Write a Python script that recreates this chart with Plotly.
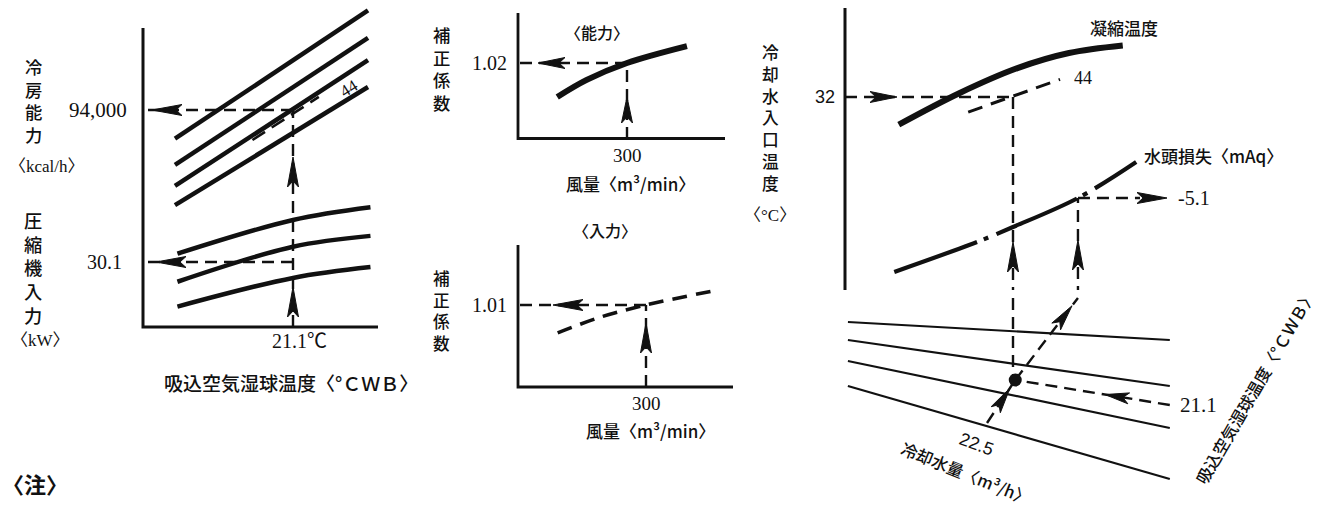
import math
import plotly.graph_objects as go

W, H = 1327, 511
INK = "#111111"
SERIF = "Liberation Serif, Noto Sans CJK JP, serif"
SANS = "Liberation Sans, Noto Sans CJK JP, sans-serif"
GOTH = "Noto Sans CJK JP, sans-serif"

# ---- left: 冷房能力 [kcal/h] / 圧縮機入力 [kW] vs 吸込空気湿球温度 [°CWB]
cap_x = [16.3, 24.15]
cap_a = [89500, 109600]
cap_b = [85400, 105300]
cap_c = [82100, 101800]
cap_d = [79100, 97600]
cap44_x = [19.45, 22.15]
cap44 = [89300, 96050]
kw_x = [16.4, 21.1, 24.25]
kw_a = [30.75, 33.4, 34.4]
kw_b = [28.55, 31.3, 32.15]
kw_c = [26.6, 28.85, 29.7]
wb_read = 21.1
cap_read = 94000
kw_read = 30.1

# ---- middle: 補正係数 vs 風量 [m3/min]
air_cap = [236, 263, 300, 355]
coef_cap = [1.0021, 1.0111, 1.02, 1.0289]
air_kw = [231, 264, 300, 356]
coef_kw = [0.9998, 1.0055, 1.01, 1.0155]
air_read = 300
coef_cap_read = 1.02
coef_kw_read = 1.01

# ---- right: 凝縮温度 [°C] / 水頭損失 [mAq] vs 冷却水量 [m3/h]
flow_x = [17.4, 20.1, 22.7, 25.0, 27.4]
cond_t = [30.9, 32.15, 33.15, 33.75, 34.05]
c44_x = [20.5, 24.6]
c44_t = [31.4, 32.7]
head_x = [17.2, 20.9, 22.5, 25.4, 28.0]
head_m = [1.33, 2.86, 3.62, 5.1, 6.94]
inlet_read = 32
flow_read = 22.5
head_x_read = 25.4
head_read = 5.1
# lower nomogram (relative scale): 吸込空気湿球温度 lines
wbl_x = [15.13, 29.5]
wbl_a = [-2.4, -4.2]
wbl_b = [-4.2, -8.8]
wbl_c = [-6.3, -13.0]
wbl_d = [-8.8, -18.1]
node = [22.6, -8.2]
wb_in = [29.5, -10.7]
flow_in = [21.34, -12.5]


class Scale:
    def __init__(self, v0, p0, v1, p1):
        self.v0, self.p0 = v0, p0
        self.k = (v1 - v0) / (p1 - p0)

    def val(self, p):
        return self.v0 + (p - self.p0) * self.k

    def px(self, v):
        return self.p0 + (v - self.v0) / self.k


S = {
    "x": Scale(15, 143, 21.1, 293), "y": Scale(60000, 327, 94000, 110),
    "y2": Scale(25, 327, 30.1, 262),
    "x3": Scale(200, 518, 300, 627), "y3": Scale(0.98, 139, 1.02, 63),
    "x4": Scale(200, 518, 300, 646), "y4": Scale(0.98, 387, 1.01, 305),
    "x5": Scale(15, 845, 22.5, 1013), "y5": Scale(24, 298, 32, 97),
    "y6": Scale(0, 298, 5.1, 198), "y7": Scale(0, 298, -10, 398),
}


def xax(name, pa, pb, **kw):
    s = S[name]
    return dict(domain=[pa / W, pb / W], range=[s.val(pa), s.val(pb)], visible=False, **kw)


def yax(name, pa, pb, **kw):
    s = S[name]
    return dict(domain=[1 - pa / H, 1 - pb / H], range=[s.val(pa), s.val(pb)], visible=False, **kw)


fig = go.Figure()


def line(xa, ya, xs, ys, width=4.5, dash=None, shape="linear"):
    fig.add_trace(go.Scatter(x=xs, y=ys, xaxis=xa, yaxis=ya, mode="lines",
                             line=dict(color=INK, width=width, dash=dash, shape=shape),
                             hoverinfo="skip"))


def dashed(xa, ya, xs, ys, width=2.4):
    line(xa, ya, xs, ys, width=width, dash="12px,7px")


def head(xa, ya, start, tip, L=30, w=5.5):
    sx, sy = S[xa], S[ya]
    x0, y0 = sx.px(start[0]), sy.px(start[1])
    x1, y1 = sx.px(tip[0]), sy.px(tip[1])
    n = math.hypot(x1 - x0, y1 - y0)
    dx, dy = (x1 - x0) / n, (y1 - y0) / n
    pts = [(x1, y1),
           (x1 - L * dx - w * dy, y1 - L * dy + w * dx),
           (x1 - (L - 6) * dx, y1 - (L - 6) * dy),
           (x1 - L * dx + w * dy, y1 - L * dy - w * dx),
           (x1, y1)]
    fig.add_trace(go.Scatter(x=[sx.val(p[0]) for p in pts], y=[sy.val(p[1]) for p in pts],
                             xaxis=xa, yaxis=ya, mode="lines", fill="toself",
                             fillcolor=INK, line=dict(color=INK, width=1), hoverinfo="skip"))


def along(xa, ya, a, b, px_x):
    # point on segment a-b at a given horizontal pixel position
    sx = S[xa]
    t = (px_x - sx.px(a[0])) / (sx.px(b[0]) - sx.px(a[0]))
    return [a[0] + t * (b[0] - a[0]), a[1] + t * (b[1] - a[1])]


# ================= left panel =================
sx, sy = S["x"], S["y"]
line("x", "y", [15, 15, sx.val(378)], [sy.val(28), 60000, 60000], width=3)
for cy in (cap_a, cap_b, cap_c, cap_d):
    line("x", "y", cap_x, cy, width=4.5)
line("x", "y", cap44_x, cap44, width=2.6, dash="15px,8px")
for ky in (kw_a, kw_b, kw_c):
    line("x", "y2", kw_x, ky, width=4.5, shape="spline")

dashed("x", "y", [wb_read, wb_read], [60000, cap_read])
dashed("x", "y", [wb_read, 15], [cap_read, cap_read])
dashed("x", "y2", [wb_read, 15], [kw_read, kw_read])
head("x", "y", [wb_read, cap_read], [sx.val(152), cap_read])
head("x", "y2", [wb_read, kw_read], [sx.val(156), kw_read])
head("x", "y", [wb_read, 60000], [wb_read, sy.val(287)])
head("x", "y", [wb_read, 60000], [wb_read, sy.val(157)])

# ================= middle panels =================
s3x, s3y = S["x3"], S["y3"]
line("x3", "y3", [200, 200, s3x.val(725)], [s3y.val(13), s3y.val(138.5), s3y.val(138.5)], width=2.8)
line("x3", "y3", air_cap, coef_cap, width=6, shape="spline")
dashed("x3", "y3", [air_read, air_read], [0.98, coef_cap_read])
dashed("x3", "y3", [air_read, 200], [coef_cap_read, coef_cap_read])
head("x3", "y3", [air_read, coef_cap_read], [s3x.val(538), coef_cap_read], L=27)
head("x3", "y3", [air_read, 0.98], [air_read, s3y.val(97)], L=26)

s4x, s4y = S["x4"], S["y4"]
line("x4", "y4", [200, 200, s4x.val(733)], [s4y.val(245), 0.98, 0.98], width=2.8)
line("x4", "y4", air_kw, coef_kw, width=3.6, dash="15px,9px", shape="spline")
dashed("x4", "y4", [air_read, air_read], [0.98, coef_kw_read])
dashed("x4", "y4", [air_read, 200], [coef_kw_read, coef_kw_read])
head("x4", "y4", [air_read, coef_kw_read], [s4x.val(553), coef_kw_read])
head("x4", "y4", [air_read, 0.98], [air_read, s4y.val(323)])

# ================= right panel =================
s5x, s5y, s6y, s7y = S["x5"], S["y5"], S["y6"], S["y7"]
line("x5", "y5", [15, 15, s5x.val(1168)], [s5y.val(8), 24, 24], width=3)
line("x5", "y5", flow_x, cond_t, width=6, shape="spline")
line("x5", "y5", c44_x, c44_t, width=3, dash="15px,9px")
line("x5", "y6", head_x, head_m, width=4.2, dash="88px,7px,5px,9px", shape="spline")
for wy in (wbl_a, wbl_b, wbl_c, wbl_d):
    line("x5", "y7", wbl_x, wy, width=2.2)

dashed("x5", "y5", [15, flow_read], [inlet_read, inlet_read])
head("x5", "y5", [15, inlet_read], [s5x.val(897), inlet_read], L=27)
dashed("x5", "y5", [flow_read, flow_read], [inlet_read, 24])
dashed("x5", "y7", [flow_read, flow_read], [0, node[1]])
head("x5", "y5", [flow_read, 24], [flow_read, s5y.val(242)])

dashed("x5", "y6", [head_x_read, head_x_read], [0, head_read])
head("x5", "y6", [head_x_read, 0], [head_x_read, s6y.val(240)])
dashed("x5", "y6", [head_x_read, s5x.val(1140)], [head_read, head_read])
head("x5", "y6", [head_x_read, head_read], [s5x.val(1167), head_read])

dashed("x5", "y7", [wb_in[0], node[0]], [wb_in[1], node[1]])
head("x5", "y7", wb_in, along("x5", "y7", wb_in, node, 1105), L=24)
dashed("x5", "y7", [node[0], head_x_read], [node[1], 0])
head("x5", "y7", node, along("x5", "y7", node, [head_x_read, 0], 1072), L=26)
dashed("x5", "y7", [flow_in[0], node[0]], [flow_in[1], node[1]])
head("x5", "y7", flow_in, along("x5", "y7", flow_in, node, 1010), L=26)
fig.add_trace(go.Scatter(x=[node[0]], y=[node[1]], xaxis="x5", yaxis="y7", mode="markers",
                         marker=dict(color=INK, size=13), hoverinfo="skip"))

# ================= text =================
ann = []


def ptxt(text, x, y, size=17, family=GOTH, angle=0, xanchor="center", weight="normal"):
    ann.append(dict(text=text, x=x / W, y=1 - y / H, xref="paper", yref="paper",
                    showarrow=False, xanchor=xanchor, yanchor="middle", textangle=angle,
                    font=dict(family=family, size=size, color=INK, weight=weight)))


def vtxt(text, x, y0, step):
    # vertical Japanese label: one character per line, plotly line pitch is 1.3 x font size
    ptxt("<br>".join(text), x, y0 + (len(text) - 1) * step / 2, size=step / 1.3, weight=500)


def dtxt(text, xa, ya, x, y, size=20, family=SERIF, angle=0, xanchor="center",
         xshift=0, yshift=0):
    ann.append(dict(text=text, x=x, y=y, xref=xa, yref=ya, showarrow=False,
                    xanchor=xanchor, yanchor="middle", xshift=xshift, yshift=yshift,
                    textangle=angle, font=dict(family=family, size=size, color=INK)))


# left
vtxt("冷房能力", 33, 67, 22.5)
ptxt("〈kcal/h〉", 47, 166, size=17, family=SERIF)
vtxt("圧縮機入力", 33, 220, 23.7)
ptxt("〈kW〉", 40, 340, size=17, family=SERIF)
dtxt("94,000", "x", "y", 15, cap_read, size=21, xanchor="right", xshift=-14)
dtxt(str(kw_read), "x", "y2", 15, kw_read, size=20, xanchor="right", xshift=-19)
dtxt(f"{wb_read}℃", "x", "y", wb_read, 60000, size=20, xshift=6, yshift=-14)
dtxt("44", "x", "y", sx.val(349), sy.val(88), size=17, angle=-32)
ptxt("吸込空気湿球温度〈°ＣＷＢ〉", 291, 382, size=19, weight=500)
ptxt("〈注〉", 0, 483, size=22, xanchor="left", weight="bold")

# middle
vtxt("補正係数", 442, 35, 22.5)
ptxt("〈能力〉", 597, 32, size=16, weight=500)
dtxt(f"{coef_cap_read:.2f}", "x3", "y3", 200, coef_cap_read, size=20, xanchor="right", xshift=-9)
dtxt(str(air_read), "x3", "y3", air_read, s3y.val(138.5), size=19, yshift=-17)
ptxt("風量〈m³/min〉", 630, 183, size=17, weight=500)
ptxt("〈入力〉", 605, 230, size=16, weight=500)
vtxt("補正係数", 442, 278, 21.6)
dtxt(f"{coef_kw_read:.2f}", "x4", "y4", 200, coef_kw_read, size=20, xanchor="right", xshift=-9)
dtxt(str(air_read), "x4", "y4", air_read, 0.98, size=19, yshift=-16)
ptxt("風量〈m³/min〉", 650, 430, size=17, weight=500)

# right
vtxt("冷却水入口温度", 770, 52, 21.8)
ptxt("〈°C〉", 770, 215, size=17, family=SERIF)
dtxt(str(inlet_read), "x5", "y5", 15, inlet_read, size=18, family=SANS, xanchor="right", xshift=-8)
ptxt("凝縮温度", 1124, 27, size=17, weight=500)
dtxt("44", "x5", "y5", s5x.val(1072), s5y.val(78), size=18, xanchor="left")
ptxt("水頭損失〈mAq〉", 1142, 155, size=17, xanchor="left", weight=500)
dtxt(f"-{head_read}", "x5", "y6", s5x.val(1176), head_read, size=20, xanchor="left")
dtxt(str(wb_read), "x5", "y7", s5x.val(1178), wb_in[1], size=21, xanchor="left")
dtxt(str(flow_read), "x5", "y7", s5x.val(976), s7y.val(444), size=18, family=SANS, angle=20)
ptxt("冷却水量〈m³/h〉", 966, 473, size=16.5, angle=22, weight=500)
ptxt("吸込空気湿球温度〈°ＣＷＢ〉", 1255, 387, size=16.5, angle=-60, weight=500)

fig.update_layout(
    width=W, height=H, margin=dict(l=0, r=0, t=0, b=0),
    paper_bgcolor="white", plot_bgcolor="white", showlegend=False,
    annotations=ann,
    xaxis=xax("x", 130, 392, anchor="y"),
    yaxis=yax("y", 335, 0, anchor="x"),
    yaxis2=yax("y2", 335, 0, anchor="x", overlaying="y"),
    xaxis3=xax("x3", 505, 745, anchor="y3"),
    yaxis3=yax("y3", 150, 0, anchor="x3"),
    xaxis4=xax("x4", 505, 745, anchor="y4"),
    yaxis4=yax("y4", 400, 235, anchor="x4"),
    xaxis5=xax("x5", 835, 1327, anchor="y5"),
    yaxis5=yax("y5", 306, 0, anchor="x5"),
    yaxis6=yax("y6", 306, 0, anchor="x5", overlaying="y5"),
    yaxis7=yax("y7", 511, 290, anchor="x5"),
)

# the page body has a default 8px margin; drop it so the figure sits at the window origin
fig.write_html("out.html", config={"displayModeBar": False},
               post_script="document.body.style.margin='0px';")
